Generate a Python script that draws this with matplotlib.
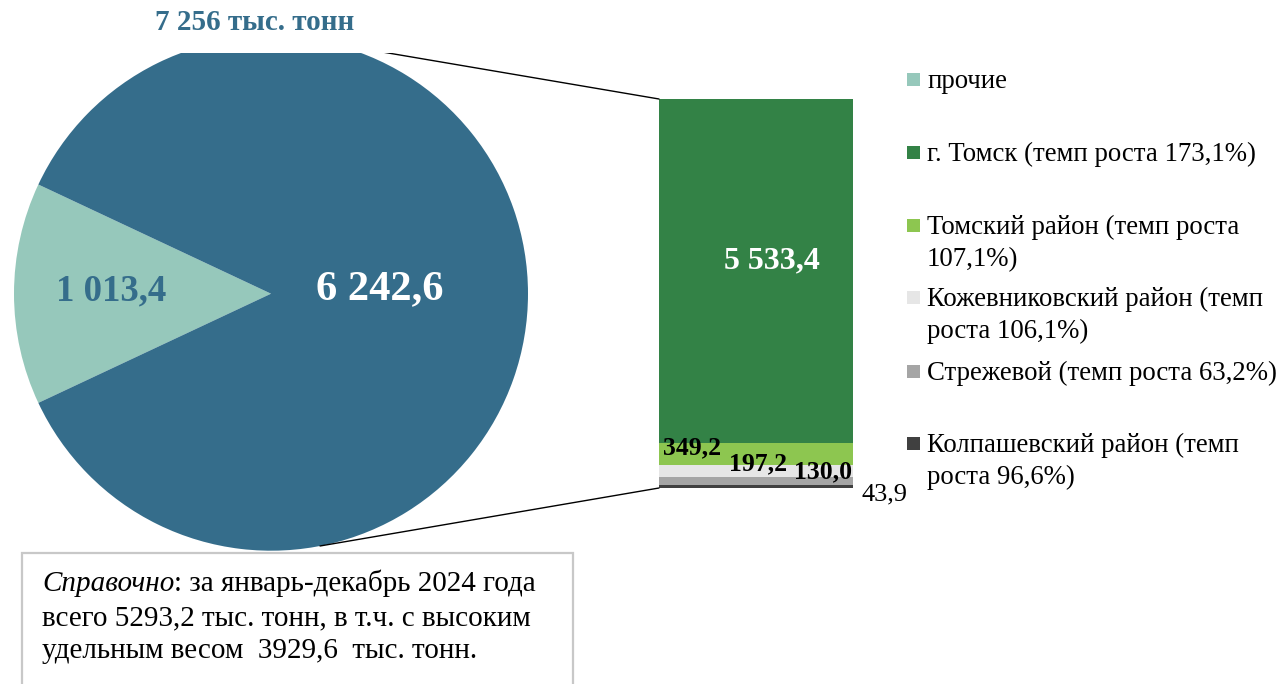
import numpy as np
import matplotlib
matplotlib.use("Agg")
import matplotlib.pyplot as plt
from matplotlib.patches import Rectangle, ConnectionPatch
from matplotlib.transforms import Bbox, TransformedBbox

plt.rcParams['font.family'] = ['Liberation Serif', 'DejaVu Serif']

# ---- data -------------------------------------------------------------
pie_labels = ["прочие", "Томская область (районы)"]
pie_values = [1013.4, 6242.6]

bar_labels = ["Колпашевский район", "Стрежевой", "Кожевниковский район",
              "Томский район", "г. Томск"]
bar_values = [43.9, 130.0, 197.2, 349.2, 5533.4]
bar_growth = ["96,6%", "63,2%", "106,1%", "107,1%", "173,1%"]

legend_lines = [
    ["прочие"],
    ["г. Томск (темп роста 173,1%)"],
    ["Томский район (темп роста", "107,1%)"],
    ["Кожевниковский район (темп", "роста 106,1%)"],
    ["Стрежевой (темп роста 63,2%)"],
    ["Колпашевский район (темп", "роста 96,6%)"],
]

note_italic = "Справочно"
note_lines = [": за январь-декабрь 2024 года",
              "всего 5293,2 тыс. тонн, в т.ч. с высоким",
              "удельным весом  3929,6  тыс. тонн."]

# ---- colours ----------------------------------------------------------
C_MAIN = "#356d8b"
C_OTHER = "#96c8bb"
bar_colors = ["#404040", "#a5a5a5", "#e6e6e6", "#8dc650", "#338246"]
legend_colors = [C_OTHER, "#338246", "#8dc650", "#e6e6e6", "#a5a5a5", "#404040"]


def ru(v, nd=1):
    s = f"{v:,.{nd}f}"
    return s.replace(",", " ").replace(".", ",")


W, H = 1278, 684
fig = plt.figure(figsize=(W / 100, H / 100), dpi=100)

# ---- pie (clipped at the top of its plot area) ------------------------
CX, CY, R = 271.0, 293.7, 257.0
TOP = 53.0
ax1 = fig.add_axes([0, 0, 560 / W, (H - TOP) / H])
frac_other = pie_values[0] / sum(pie_values)
start = 180 - frac_other * 360 / 2
wedges, _ = ax1.pie(pie_values, colors=[C_OTHER, C_MAIN], startangle=start,
                    counterclock=True, radius=1.0, wedgeprops=dict(linewidth=0))
for w in wedges:
    w.set_clip_on(True)
ax1.set_aspect('auto')
ax1.set_xlim((0 - CX) / R, (560 - CX) / R)
ax1.set_ylim((CY - H) / R, (CY - TOP) / R)
ax1.axis('off')

# ---- stacked bar ------------------------------------------------------
BX0, BX1, BY0, BY1 = 659, 853, 99, 488
ax2 = fig.add_axes([BX0 / W, (H - BY1) / H, (BX1 - BX0) / W, (BY1 - BY0) / H])
total_bar = sum(bar_values)
bottoms = np.concatenate([[0], np.cumsum(bar_values)[:-1]])
ax2.bar([0] * len(bar_values), bar_values, bottom=bottoms, width=1.0,
        color=bar_colors, linewidth=0)
ax2.set_xlim(-0.5, 0.5)
ax2.set_ylim(0, total_bar)
ax2.axis('off')

# ---- connector lines between pie and bar ------------------------------
clip = TransformedBbox(Bbox([[0, 0], [1, (H - TOP) / H]]), fig.transFigure)
ang = np.deg2rad(79)
for sgn, yb in [(1, total_bar), (-1, 0)]:
    con = ConnectionPatch(xyA=(np.cos(ang), sgn * np.sin(ang)), coordsA=ax1.transData,
                          xyB=(-0.5, yb), coordsB=ax2.transData,
                          color="black", lw=1.0)
    fig.add_artist(con)
    con.set_clip_on(True)
    con.set_clip_box(clip)

# ---- overlay in pixel coordinates for text ----------------------------
ov = fig.add_axes([0, 0, 1, 1], zorder=5)
ov.set_xlim(0, W)
ov.set_ylim(H, 0)
ov.axis('off')
ov.patch.set_alpha(0)

# pie labels
ov.text(255, 22, f"{ru(sum(pie_values), 0)} тыс. тонн", color=C_MAIN,
        fontsize=21, fontweight='bold', ha='center', va='center')
ov.text(380, 289, ru(pie_values[1]), color="white", fontsize=30.5,
        fontweight='bold', ha='center', va='center')
ov.text(111, 291, ru(pie_values[0]), color=C_MAIN, fontsize=26.5,
        fontweight='bold', ha='center', va='center')

# bar labels
ov.text(772, 261, ru(bar_values[4]), color="white", fontsize=23,
        fontweight='bold', ha='center', va='center')
ov.text(692, 448, ru(bar_values[3]), color="black", fontsize=18.5,
        fontweight='bold', ha='center', va='center')
ov.text(758, 464, ru(bar_values[2]), color="black", fontsize=18.5,
        fontweight='bold', ha='center', va='center')
ov.text(823, 472, ru(bar_values[1]), color="black", fontsize=18.5,
        fontweight='bold', ha='center', va='center')
ov.text(884, 494, ru(bar_values[0]), color="black", fontsize=19,
        ha='center', va='center')

# legend
marker_y = [79, 152, 225, 297, 371, 443]
base_y = [88, 161, 234, 306.5, 380, 452.5]
LINE = 31.7
for col, my, by, lines in zip(legend_colors, marker_y, base_y, legend_lines):
    ov.add_patch(Rectangle((907, my - 6.5), 13, 13, facecolor=col, edgecolor='none'))
    for i, ln in enumerate(lines):
        ov.text(927, by + i * LINE, ln, fontsize=19.3, color="black",
                ha='left', va='baseline')

# reference note box
ov.add_patch(Rectangle((22, 553), 551, 160, facecolor='white',
                       edgecolor='#c8c8c8', lw=1.6, clip_on=False))
NOTE_FS = 21
note_base = [591, 625, 658]
t_it = ov.text(42, note_base[0], note_italic, fontsize=NOTE_FS, style='italic',
               ha='left', va='baseline')
fig.canvas.draw()
bb = t_it.get_window_extent(renderer=fig.canvas.get_renderer())
x_after = ov.transData.inverted().transform((bb.x1, bb.y0))[0]
ov.text(x_after, note_base[0], note_lines[0], fontsize=NOTE_FS, ha='left',
        va='baseline')
for i in (1, 2):
    ov.text(42, note_base[i], note_lines[i], fontsize=NOTE_FS, ha='left',
            va='baseline')

fig.savefig("out.png", dpi=100)
